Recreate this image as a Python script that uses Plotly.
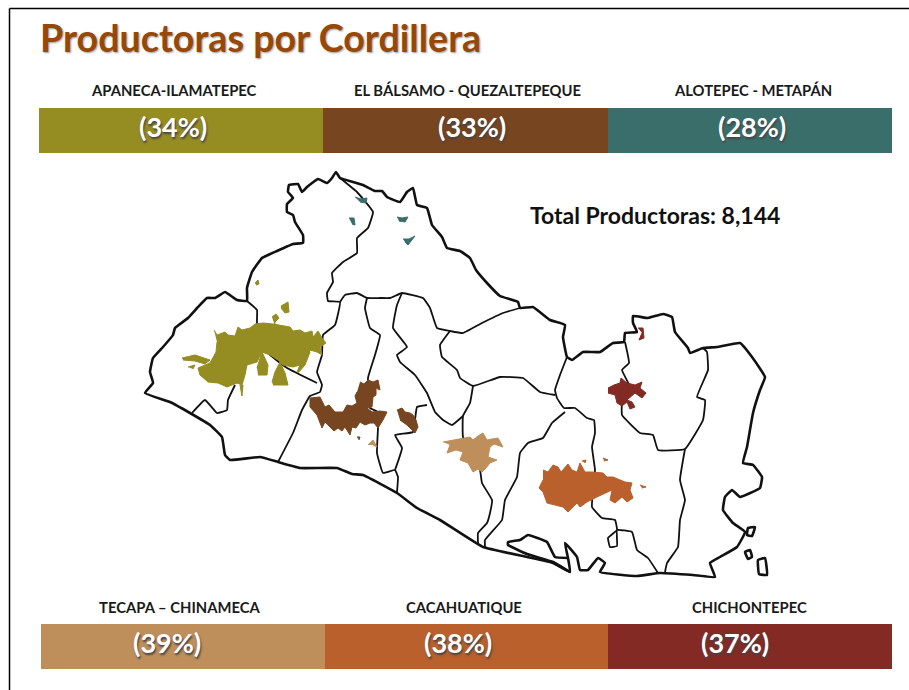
import plotly.graph_objects as go

top_names = ["APANECA-ILAMATEPEC", "EL BÁLSAMO - QUEZALTEPEQUE", "ALOTEPEC - METAPÁN"]
top_pct = [34, 33, 28]
top_colors = ["#958C22", "#77451F", "#3A6E6A"]

bottom_names = ["TECAPA – CHINAMECA", "CACAHUATIQUE", "CHICHONTEPEC"]
bottom_pct = [39, 38, 37]
bottom_colors = ["#BE8F5B", "#B9602D", "#832A25"]

# outline of the country
outer = [(145,393),(153,383),(150,372),(153,358),(163,347),(173,335),(175,328),(188,318),(198,307),(207,298),
         (215,298),(225,292),(237,300),(247,301),(247,288),(252,272),(262,258),(277,251),(293,244),(303,243),
         (303,235),(295,222),(293,215),(287,212),(287,204),(293,198),(288,192),(289,185),(298,184),(302,192),
         (307,187),(318,179),(327,183),(332,178),(336,172),(340,178),(353,182),(363,185),(375,191),(382,191),
         (387,197),(400,202),(407,192),(413,188),(417,205),(427,208),(432,225),(442,237),(447,248),(460,251),
         (470,258),(476,270),(487,283),(500,296),(518,302),(520,308),(533,307),(550,320),(565,325),(563,337),
         (567,357),(572,360),(583,352),(600,352),(613,343),(624,342),(625,333),(637,332),(633,323),(633,316),
         (648,318),(663,314),(672,317),(675,332),(688,348),(690,353),(703,348),(717,347),(740,343),(752,357),
         (765,377),(760,390),(753,413),(747,447),(743,463),(753,465),(762,477),(760,488),(740,497),(732,490),
         (725,497),(723,510),(733,523),(745,532),(737,547),(720,557),(710,563),(715,577),(693,575),(660,573),
         (637,576),(600,572),(605,563),(598,558),(588,570),(580,570),(577,557),(565,543),(568,558),(570,572),
         (553,563),(527,557),(483,547),(440,520),(417,508),(397,493),(363,475),(352,474),(337,468),(300,468),
         (278,462),(260,457),(230,460),(225,455),(222,437),(210,425),(190,413),(170,402),(145,393)]
bay = [(570,572),(553,562),(527,554),(508,545),(508,542),(520,540),(528,535),(547,542),(555,557),(568,558)]
islet_a = [(748,528),(755,527),(752,536),(747,535),(748,528)]
islet_b = [(745,552),(750,550),(752,557),(748,559),(745,552)]
islet_c = [(758,560),(765,558),(767,575),(759,574),(758,560)]

# department borders
border_a = [(340,178),(357,192),(373,212),(368,228),(357,238),(357,253),(343,262),(332,273),(333,282),(327,293),
            (328,301),(340,302),(335,325),(323,335),(322,355),(317,372),(322,385),(320,392),(310,396),(302,410),
            (293,433),(278,462)]
border_b = [(247,301),(257,310),(257,323),(268,353),(287,368),(317,383)]
border_c = [(235,385),(228,400),(227,410),(217,413),(205,400),(192,413)]
border_d = [(340,302),(345,295),(357,293),(367,298),(380,298),(390,298),(402,293),(423,298),(430,308),(437,328),
            (450,331),(463,333),(482,323),(503,313),(520,308)]
border_e = [(450,331),(440,345),(442,357),(457,370),(460,378),(473,386),(500,377),(523,378),(540,392),(555,395)]
border_f = [(567,357),(560,375),(555,390),(557,398),(564,408),(575,408),(587,418),(594,420),(595,433),(592,447),
            (595,470),(592,507),(602,518),(615,520),(617,530),(608,538),(610,547),(617,546),(617,530),(632,532),
            (637,550),(648,558),(658,573)]
border_g = [(473,386),(470,403),(463,416),(463,437),(480,470),(482,483),(492,500),(490,513),(487,523),(478,533),(478,543)]
border_h = [(565,412),(552,423),(543,438),(528,443),(520,453),(517,477),(505,500),(502,520),(485,540),(485,547)]
border_i = [(402,293),(397,305),(393,328),(407,347),(397,355),(400,362),(415,375),(427,393),(435,412),(443,420),
            (452,425),(463,416)]
border_j = [(367,298),(365,308),(370,328),(380,335),(375,355),(368,378),(370,408),(378,412),(378,428),(377,453),
            (383,473),(395,470),(398,477),(397,492)]
border_k = [(395,470),(402,448),(395,435),(413,432),(417,407),(427,405)]
border_l = [(625,342),(629,363),(622,370),(630,387),(622,403),(622,415),(640,433),(653,435),(658,450),(685,449),
            (703,420),(705,400),(697,397),(708,370),(707,352),(703,348)]
border_m = [(685,449),(680,480),(685,500),(680,520),(678,547),(667,563),(665,572)]

# coffee areas, one list per patch
olive_main = [(214,330),(217,335),(225,332),(228,335),(235,336),(238,327),(242,330),(250,328),(255,324),(263,323),
              (273,324),(280,325),(290,327),(293,331),(300,330),(305,333),(312,331),(313,337),(318,331),(322,338),
              (326,343),(320,347),(322,355),(317,352),(310,350),(307,358),(300,365),(293,367),(283,365),(278,360),
              (270,355),(262,352),(257,362),(247,365),(245,375),(242,385),(237,383),(227,387),(218,383),(208,382),
              (200,375),(198,368),(210,363),(216,352),(217,342)]
olive_tail = [(182,358),(195,355),(210,360),(205,364),(195,361),(183,360)]
olive_dot = [(188,367),(195,365),(193,369)]
olive_b = [(257,368),(262,352),(268,365),(267,375),(258,375)]
olive_c = [(272,382),(275,372),(280,362),(285,373),(288,385),(273,385)]
olive_d = [(297,372),(303,358),(310,352),(305,365),(298,373)]
olive_e = [(272,317),(276,314),(279,318),(275,322),(275,326)]
olive_f = [(281,306),(288,302),(289,312),(285,313),(281,308)]
olive_g = [(255,283),(258,280),(259,284),(256,285)]
olive_h = [(240,385),(242,396),(243,385)]

brown_main = [(360,382),(364,384),(368,380),(373,382),(378,380),(380,390),(376,388),(376,395),(373,397),(372,407),
              (367,408),(372,412),(380,411),(387,412),(383,420),(378,428),(374,423),(370,423),(365,425),(360,422),
              (356,428),(352,427),(350,435),(345,427),(342,431),(338,428),(334,431),(330,427),(325,422),(322,428),
              (319,420),(317,415),(310,407),(310,398),(320,397),(325,407),(329,405),(335,412),(343,412),(347,405),
              (352,406),(357,403),(355,396),(357,392)]
brown_b = [(397,410),(402,408),(405,412),(410,413),(413,415),(416,420),(418,427),(415,433),(407,425),(400,420)]
brown_c = [(357,437),(360,437),(359,440)]

tan_main = [(443,442),(455,440),(463,438),(470,437),(473,440),(478,436),(483,433),(487,440),(492,439),(498,438),
            (503,447),(494,444),(490,447),(488,457),(497,460),(490,463),(486,468),(482,472),(478,469),(473,472),
            (468,463),(460,460),(463,452),(456,450),(447,453),(450,445)]
tan_b = [(368,445),(373,440),(377,447),(373,445)]

orange_main = [(543,470),(548,472),(553,465),(558,467),(561,472),(568,464),(572,470),(577,472),(580,463),(585,472),
               (593,472),(603,473),(607,477),(613,477),(625,482),(632,483),(630,490),(633,498),(627,502),(622,497),
               (615,503),(610,500),(612,490),(605,493),(597,497),(587,502),(580,507),(577,503),(568,512),(563,507),
               (555,505),(547,503),(543,492),(539,488),(543,480)]
orange_b = [(582,461),(586,460),(585,463)]
orange_c = [(603,458),(608,460),(604,461)]
orange_d = [(640,485),(646,487),(642,488)]

red_main = [(608,388),(614,385),(620,383),(621,378),(627,383),(635,385),(642,382),(640,388),(646,393),(642,398),
            (635,393),(627,400),(632,402),(635,407),(630,409),(627,402),(622,406),(617,403),(615,395),(608,393)]
red_b = [(638,328),(643,328),(644,338),(639,340),(642,333)]

teal_a = [(355,197),(361,199),(367,198),(366,203),(360,202)]
teal_b = [(349,218),(354,218),(355,225),(352,224)]
teal_c = [(397,217),(402,218),(408,217),(405,222),(399,221)]
teal_d = [(403,239),(409,239),(415,236),(408,245),(405,242)]

W, H = 909, 690
FONT = "Lato"
fig = go.Figure()


def add_line(points, width):
    fig.add_trace(go.Scatter(x=[p[0] for p in points], y=[p[1] for p in points], mode="lines",
                             line=dict(color="#111111", width=width, shape="spline", smoothing=0.3),
                             showlegend=False, hoverinfo="skip"))


def add_patch(points, color):
    fig.add_trace(go.Scatter(x=[p[0] for p in points], y=[p[1] for p in points], mode="lines", fill="toself",
                             fillcolor=color, line=dict(color=color, width=1), showlegend=False, hoverinfo="skip"))


for b in [border_a, border_b, border_c, border_d, border_e, border_f, border_g,
          border_h, border_i, border_j, border_k, border_l, border_m]:
    add_line(b, 1.8)
for b in [outer, bay, islet_a, islet_b, islet_c]:
    add_line(b, 2.6)

for patch in [olive_main, olive_tail, olive_dot, olive_b, olive_c, olive_d, olive_e, olive_f, olive_g, olive_h]:
    add_patch(patch, top_colors[0])
for patch in [brown_main, brown_b, brown_c]:
    add_patch(patch, top_colors[1])
for patch in [teal_a, teal_b, teal_c, teal_d]:
    add_patch(patch, top_colors[2])
for patch in [tan_main, tan_b]:
    add_patch(patch, bottom_colors[0])
for patch in [orange_main, orange_b, orange_c, orange_d]:
    add_patch(patch, bottom_colors[1])
for patch in [red_main, red_b]:
    add_patch(patch, bottom_colors[2])

fig.add_trace(go.Bar(x=top_names, y=[1, 1, 1], marker=dict(color=top_colors, line=dict(width=0)),
                     xaxis="x2", yaxis="y2", showlegend=False, hoverinfo="skip"))
fig.add_trace(go.Bar(x=bottom_names, y=[1, 1, 1], marker=dict(color=bottom_colors, line=dict(width=0)),
                     xaxis="x3", yaxis="y3", showlegend=False, hoverinfo="skip"))

notes = []
pct_font = dict(family=FONT, size=27, color="#FFFFFF", weight="bold", shadow="1px 2px 2px #444444")
name_font = dict(family=FONT, size=14.8, color="#1A1A1A", weight="bold")
for names, pct, xaxis, label_y, pct_y, label_dx, pct_dx in [
    (top_names, top_pct, "x2", 90, 127, [-7, 2, 3], [-8, 6, 2]),
    (bottom_names, bottom_pct, "x3", 607, 642, [-3, -3, -1], [-16, -9, -15]),
]:
    for name, p, dx, px in zip(names, pct, label_dx, pct_dx):
        notes.append(dict(text=name, x=name, xref=xaxis, y=1 - label_y / H, yref="paper", xshift=dx,
                          yanchor="middle", showarrow=False, font=name_font))
        notes.append(dict(text="(%d%%)" % p, x=name, xref=xaxis, y=1 - pct_y / H, yref="paper", xshift=px,
                          yanchor="middle", showarrow=False, font=pct_font))
notes.append(dict(text="Total Productoras: 8,144", x=655, y=215, xref="x", yref="y", showarrow=False,
                  font=dict(family=FONT, size=23, color="#111111", weight="bold")))

fig.update_layout(
    width=W,
    height=H,
    margin=dict(l=0, r=0, t=0, b=0),
    paper_bgcolor="#FFFFFF",
    plot_bgcolor="#FFFFFF",
    bargap=0,
    title=dict(text="<b>Productoras por Cordillera</b>", x=40 / W, xanchor="left", y=1 - 39 / H, yanchor="middle",
               font=dict(family=FONT, size=37.7, color="#974706", shadow="1px 1px 2px #999999")),
    annotations=notes,
    xaxis=dict(domain=[0, 1], range=[0, W], visible=False),
    yaxis=dict(domain=[0, 1], range=[H, 0], visible=False),
    xaxis2=dict(domain=[39 / W, 892 / W], anchor="y2", visible=False),
    yaxis2=dict(domain=[1 - 153 / H, 1 - 108 / H], anchor="x2", range=[0, 1], visible=False),
    xaxis3=dict(domain=[41 / W, 892 / W], anchor="y3", visible=False),
    yaxis3=dict(domain=[1 - 669 / H, 1 - 624 / H], anchor="x3", range=[0, 1], visible=False),
    shapes=[
        dict(type="line", xref="paper", yref="paper", x0=9.5 / W, x1=1, y0=1 - 8.5 / H, y1=1 - 8.5 / H,
             line=dict(color="#000000", width=1.5)),
        dict(type="line", xref="paper", yref="paper", x0=9.5 / W, x1=9.5 / W, y0=0, y1=1 - 8.5 / H,
             line=dict(color="#000000", width=1.5)),
    ],
)

# the page's default body margin would push the figure 8px in
fig.write_html("out.html", config=dict(displayModeBar=False),
               post_script="document.body.style.margin='0';document.body.style.overflow='hidden';")
